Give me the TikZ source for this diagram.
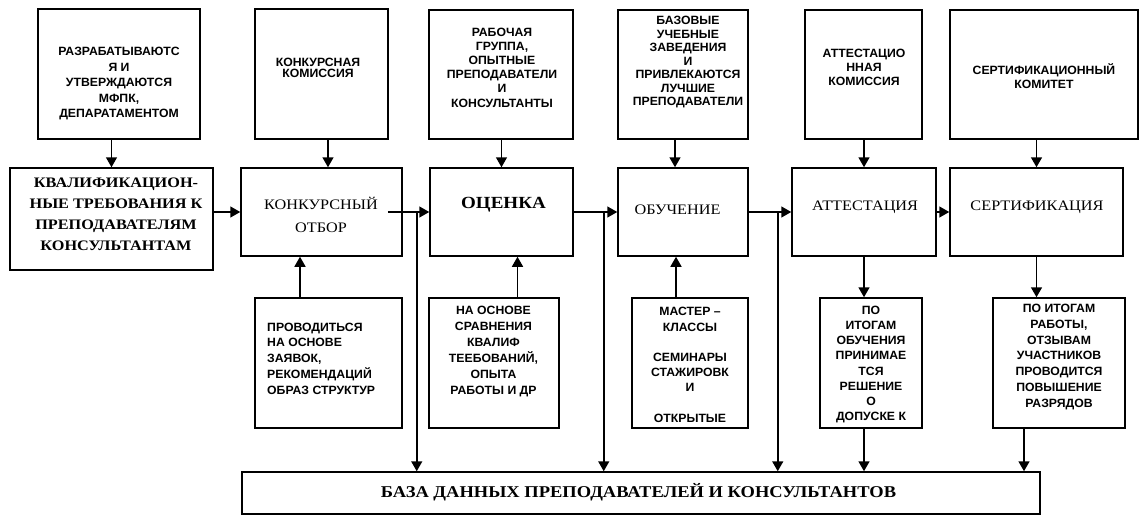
\documentclass[tikz,border=0pt]{standalone}
\usepackage{fontspec}
\usetikzlibrary{arrows.meta}
\newfontfamily\notefont{Liberation Sans}[FakeStretch=1.02]
\newfontfamily\stagefont{Liberation Serif}[FakeStretch=1.12]

\tikzset{
  box/.style={draw, line width=1.5pt, inner sep=0pt},
  memo/.style={font={\fontsize{12}{#1}\selectfont\notefont\bfseries\lineskiplimit=-20pt},
    align=center, inner sep=0pt},
  memo/.default=15.5,
  stage/.style={font={\fontsize{14.5}{#1}\selectfont\stagefont\lineskiplimit=-20pt},
    align=center, inner sep=0pt},
  stage/.default=22,
  flow/.style={line width=1.5pt, -{Triangle[length=10pt,width=11pt]}},
}

\begin{document}
\begin{tikzpicture}[x=1pt,y=-1pt]
\useasboundingbox (0,0) rectangle (1142,516);
% Upper row: who does it
\node[box, minimum width=162pt, minimum height=130pt] (reqsrc) at (119,74) {};
\node[box, minimum width=133pt, minimum height=130pt] (selcom) at (321.5,74) {};
\node[box, minimum width=144pt, minimum height=129pt] (evalgrp) at (501,74.5) {};
\node[box, minimum width=130pt, minimum height=129pt] (trainbase) at (683,74.5) {};
\node[box, minimum width=117pt, minimum height=129pt] (attcom) at (863.5,74.5) {};
\node[box, minimum width=188pt, minimum height=129pt] (certcom) at (1044,74.5) {};
\node[memo] (reqsrc-t) at (119,84) {РАЗРАБАТЫВАЮТС\\Я И\\УТВЕРЖДАЮТСЯ\\МФПК,\\ДЕПАРАТАМЕНТОМ};
\node[memo=11] (selcom-t) at (318,67.5) {КОНКУРСНАЯ\\КОМИССИЯ};
\node[memo=14.2] (evalgrp-t) at (502,67.5) {РАБОЧАЯ\\ГРУППА,\\ОПЫТНЫЕ\\ПРЕПОДАВАТЕЛИ\\И\\КОНСУЛЬТАНТЫ};
\node[memo=13.5] (trainbase-t) at (688,62.5) {БАЗОВЫЕ\\УЧЕБНЫЕ\\ЗАВЕДЕНИЯ\\И\\ПРИВЛЕКАЮТСЯ\\ЛУЧШИЕ\\ПРЕПОДАВАТЕЛИ};
\node[memo=14] (attcom-t) at (864,67) {АТТЕСТАЦИО\\ННАЯ\\КОМИССИЯ};
\node[memo=14] (certcom-t) at (1044,76) {СЕРТИФИКАЦИОННЫЙ\\КОМИТЕТ};

% Middle row: stages
\node[box, minimum width=203pt, minimum height=102pt] (req) at (111.5,219) {};
\node[box, minimum width=161pt, minimum height=88pt] (sel) at (321.5,212) {};
\node[box, minimum width=143pt, minimum height=88pt] (eval) at (501.5,212) {};
\node[box, minimum width=130pt, minimum height=88pt] (train) at (683,212) {};
\node[box, minimum width=144pt, minimum height=88pt] (attest) at (864,212) {};
\node[box, minimum width=173pt, minimum height=88pt] (cert) at (1036.5,212) {};
\node[stage=21, font={\fontsize{14.5}{21}\selectfont\stagefont\bfseries\lineskiplimit=-20pt}] (req-t) at (116,214) {КВАЛИФИКАЦИОН-\\НЫЕ ТРЕБОВАНИЯ К\\ПРЕПОДАВАТЕЛЯМ\\КОНСУЛЬТАНТАМ};
\node[stage=23] (sel-t) at (321,214.5) {КОНКУРСНЫЙ\\ОТБОР};
\node[stage, font={\fontsize{17}{20}\selectfont\stagefont\bfseries}] (eval-t) at (503.5,205) {ОЦЕНКА};
\node[stage] (train-t) at (677.5,210) {ОБУЧЕНИЕ};
\node[stage] (attest-t) at (865,207) {АТТЕСТАЦИЯ};
\node[stage] (cert-t) at (1037,207) {СЕРТИФИКАЦИЯ};

% Lower row: how it is done
\node[box, minimum width=147pt, minimum height=130pt] (selbasis) at (328.5,363) {};
\node[box, minimum width=130pt, minimum height=130pt] (evalbasis) at (494,363) {};
\node[box, minimum width=116pt, minimum height=130pt] (trainforms) at (690,363) {};
\node[box, minimum width=102pt, minimum height=130pt] (attresult) at (871,363) {};
\node[box, minimum width=132pt, minimum height=130pt] (certresult) at (1059,363) {};
\node[memo=15.7, align=left, anchor=west] (selbasis-t) at (267,358.5) {ПРОВОДИТЬСЯ\\НА ОСНОВЕ\\ЗАЯВОК,\\РЕКОМЕНДАЦИЙ\\ОБРАЗ СТРУКТУР};
\node[memo=16] (evalbasis-t) at (493.5,352) {НА ОСНОВЕ\\СРАВНЕНИЯ\\КВАЛИФ\\ТЕЕБОВАНИЙ,\\ОПЫТА\\РАБОТЫ И ДР};
\node[memo=15.2] (trainforms-t) at (690,365) {МАСТЕР –\\КЛАССЫ\\[15.2pt]СЕМИНАРЫ\\СТАЖИРОВК\\И\\[15.2pt]ОТКРЫТЫЕ};
\node[memo=15.2] (attresult-t) at (871,364.5) {ПО\\ИТОГАМ\\ОБУЧЕНИЯ\\ПРИНИМАЕ\\ТСЯ\\РЕШЕНИЕ\\О\\ДОПУСКЕ К};
\node[memo=15.7] (certresult-t) at (1059,357) {ПО ИТОГАМ\\РАБОТЫ,\\ОТЗЫВАМ\\УЧАСТНИКОВ\\ПРОВОДИТСЯ\\ПОВЫШЕНИЕ\\РАЗРЯДОВ};

% Database
\node[box, minimum width=798pt, minimum height=42pt] (db) at (641,493) {};
\node[stage, font={\fontsize{16.5}{20}\selectfont\stagefont\bfseries}] (db-t) at (638.5,492) {БАЗА ДАННЫХ ПРЕПОДАВАТЕЛЕЙ И КОНСУЛЬТАНТОВ};

% top row down into stages
\draw[flow] (req.north |- reqsrc.south) -- (req.north);
\draw[flow] ([xshift=6.5pt]sel.north |- selcom.south) -- ([xshift=6.5pt]sel.north);
\draw[flow] (eval.north |- evalgrp.south) -- (eval.north);
\draw[flow] ([xshift=-8pt]train.north |- trainbase.south) -- ([xshift=-8pt]train.north);
\draw[flow] (attest.north |- attcom.south) -- (attest.north);
\draw[flow] (cert.north |- certcom.south) -- (cert.north);

% stage to stage
\draw[flow] (req.east |- sel.west) -- (sel.west);
\draw[flow] ([xshift=-15pt]sel.east) -- (eval.west);
\draw[flow] (eval.east) -- (train.west);
\draw[flow] (train.east) -- (attest.west);
\draw[flow] (attest.east) -- (cert.west);

% branches down to the database
\coordinate (j1) at ([xshift=14pt]sel.east);
\coordinate (j2) at ([xshift=30pt]eval.east);
\coordinate (j3) at ([xshift=29pt]train.east);
\foreach \j in {j1,j2,j3}
  \draw[flow] (\j) -- (\j |- db.north);

% lower row
\draw[flow] ([xshift=-28.5pt]selbasis.north) -- ([xshift=-28.5pt]selbasis.north |- sel.south);
\draw[flow] ([xshift=23.5pt]evalbasis.north) -- ([xshift=23.5pt]evalbasis.north |- eval.south);
\draw[flow] ([xshift=-14pt]trainforms.north) -- ([xshift=-14pt]trainforms.north |- train.south);
\draw[flow] (attest.south) -- (attest.south |- attresult.north);
\draw[flow] (cert.south) -- (cert.south |- certresult.north);
\draw[flow] ([xshift=-7pt]attresult.south) -- ([xshift=-7pt]attresult.south |- db.north);
\draw[flow] ([xshift=-35pt]certresult.south) -- ([xshift=-35pt]certresult.south |- db.north);
\end{tikzpicture}
\end{document}
